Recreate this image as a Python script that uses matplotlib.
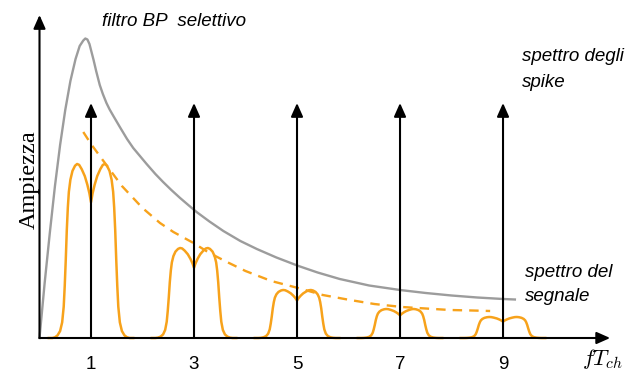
"""Schematic: selective band-pass filter vs. spike spectrum and signal spectrum."""

import matplotlib

matplotlib.use("Agg")
import matplotlib.pyplot as plt
import numpy as np

plt.rcParams["mathtext.fontset"] = "cm"

# harmonics of the chip rate (fT_ch)
HARMONICS = [1, 3, 5, 7, 9]
SPIKE_HEIGHT = 235

# band-pass filter response
FILTER_X = [0, 0.1, 0.2, 0.3, 0.4, 0.5, 0.6, 0.7, 0.78, 0.85, 0.89, 0.93, 0.97,
            1.0, 1.05, 1.1, 1.17, 1.23, 1.3, 1.36, 1.43, 1.56, 1.7, 1.82, 1.95,
            2.08, 2.25, 2.4, 2.56, 2.73, 2.9, 3.05, 3.3, 3.57, 3.9, 4.22, 4.6,
            5.03, 5.4, 5.83, 6.4, 7.0, 7.5, 8.0, 8.5, 9.0, 9.23]
FILTER_Y = [0, 55, 105, 152, 193, 228, 257, 279, 292, 297.5, 299.5, 298.5, 294,
            288, 278, 267, 253, 244, 235, 228.7, 222.4, 211, 199, 190, 182,
            174, 164, 156, 148, 140, 132.5, 126, 116.5, 107, 97, 89, 80.5,
            72, 65.5, 59, 52.5, 48, 45, 42.5, 40.5, 39, 38.5]

# dashed envelope of the signal spectrum
ENV_X = [0.85, 1.0, 1.27, 1.6, 2.0, 2.34, 2.6, 2.99, 3.3, 3.64, 4.0, 4.5, 5.02,
         5.5, 6.03, 6.5, 7.04, 7.5, 7.97, 8.4, 8.75]
ENV_Y = [206, 194, 175, 152, 130, 115, 106, 95, 85, 76, 67, 57, 50,
         43, 38, 34, 31, 29.5, 28, 27.5, 27]

# one lobe of the signal spectrum: half profile (offset from the harmonic, fraction of peak)
LOBE_DX = [0.00, 0.03, 0.07, 0.12, 0.18, 0.23, 0.27, 0.31, 0.36, 0.40, 0.43,
           0.45, 0.47, 0.49, 0.51, 0.53, 0.56, 0.60, 0.65, 0.70, 0.75, 0.82]
LOBE_Y = [0.78, 0.83, 0.88, 0.93, 0.97, 0.995, 1.00, 0.99, 0.96, 0.91, 0.84,
          0.75, 0.62, 0.45, 0.30, 0.18, 0.09, 0.04, 0.015, 0.004, 0.0, 0.0]
LOBE_PEAKS = [174, 90, 48, 29, 21]

GRAY = "#9c9c9c"
ORANGE = "#f7a21b"


def arrow(ax, x0, y0, x1, y1):
    ax.annotate("", xy=(x1, y1), xytext=(x0, y0),
                arrowprops=dict(arrowstyle="-|>,head_length=0.45,head_width=0.2",
                                mutation_scale=18, color="black", lw=1.5,
                                shrinkA=0, shrinkB=0),
                zorder=5)


def main():
    fig = plt.figure(figsize=(6.31, 3.72), dpi=100)
    ax = fig.add_axes([0, 0, 1, 1])
    ax.set_xlim(-0.767, 11.485)
    ax.set_ylim(-34, 338)
    ax.set_axis_off()

    # axes
    arrow(ax, 0, 0, 0, 323)
    arrow(ax, 0, 0, 11.08, 0)

    # filter response
    ax.plot(FILTER_X, FILTER_Y, color=GRAY, lw=1.7, zorder=2,
            solid_joinstyle="round")

    # envelope
    ax.plot(ENV_X, ENV_Y, color=ORANGE, lw=1.7, dashes=(4, 3), zorder=3)

    # spectral lobes
    dx = np.array(LOBE_DX)
    prof = np.array(LOBE_Y)
    xs = np.concatenate([-dx[::-1], dx[1:]])
    ys = np.concatenate([prof[::-1], prof[1:]])
    for h, peak in zip(HARMONICS, LOBE_PEAKS):
        ax.plot(h + xs, peak * ys, color=ORANGE, lw=1.8, zorder=3,
                solid_joinstyle="round")

    # spikes
    for h in HARMONICS:
        arrow(ax, h, 0, h, SPIKE_HEIGHT)
        ax.text(h, -31, str(h), ha="center", va="baseline", fontsize=13.5,
                family="Liberation Sans")

    lab = dict(fontsize=13.5, family="Liberation Sans", style="italic",
               ha="left", va="baseline")
    ax.text(1.21, 312, "filtro BP  selettivo", **lab)
    ax.text(9.37, 277, "spettro degli", **lab)
    ax.text(9.37, 251, "spike", **lab)
    ax.text(9.43, 61, "spettro del", **lab)
    ax.text(9.43, 37, "segnale", **lab)

    ax.text(-0.2, 158, "Ampiezza", rotation=90, ha="center", va="center",
            fontsize=17.5, family="Liberation Serif")
    ax.text(10.53, -27, r"$fT_{ch}$", ha="left", va="baseline", fontsize=16)

    fig.savefig("out.png", dpi=100)
    plt.close(fig)


if __name__ == "__main__":
    main()
